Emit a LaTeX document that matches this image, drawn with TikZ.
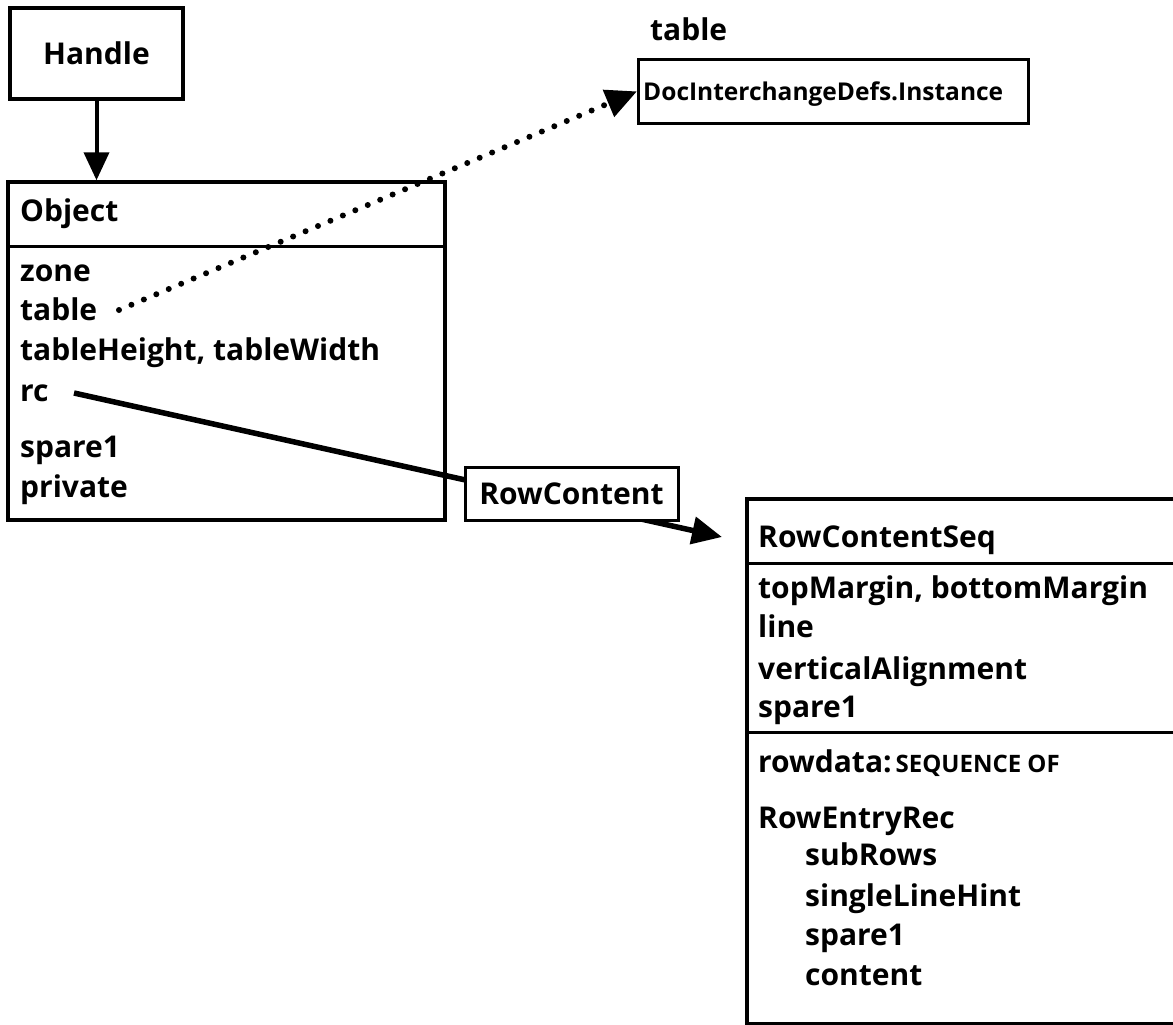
\documentclass[tikz,border=0pt]{standalone}
\usepackage{fontspec}
\setmainfont{Open Sans}
\usetikzlibrary{arrows.meta,calc}
\begin{document}
\begin{tikzpicture}[x=1pt,y=-1pt,
  box/.style={draw, line width=3.5pt, inner sep=0pt},
  big/.style={font=\bfseries\fontsize{30}{36}\selectfont},
  small/.style={font=\bfseries\fontsize{24.5}{29}\selectfont},
  item/.style={big, anchor=base west, inner sep=0pt},
  smallitem/.style={small, anchor=base west, inner sep=0pt},
  sepline/.style={line width=3pt},
  solidarrow/.style={line width=4pt, -{Triangle[length=28pt,width=25pt]}},
  rcarrow/.style={line width=5.5pt, -{Triangle[length=30pt,width=27pt]}},
  dotarrow/.style={line width=6pt, line cap=round, dash pattern=on 0pt off 13.5pt,
                   -{Triangle[length=31pt,width=28pt]}}
]
\clip (0,0) rectangle (1173,1025);
\fill[white] (0,0) rectangle (1173,1025);

% Handle
\node[box, big, minimum width=173pt, minimum height=91pt] (handle) at (96.5,53.5) {Handle};

% Object record
\node[box, minimum width=437pt, minimum height=338pt] (object) at (226.5,351) {};
\draw[sepline] (8,246) -- (445,246);
\node[item] (objhead) at (20,221) {Object};
\node[item] (fzone) at (20,281) {zone};
\node[item] (ftable) at (20,320) {table};
\node[item] (fsize) at (20,360) {tableHeight, tableWidth};
\node[item] (frc) at (20,401) {rc};
\node[item] (fspare) at (20,457) {spare1};
\node[item] (fprivate) at (20,497) {private};

% DocInterchangeDefs.Instance
\node[item] (doclabel) at (650,41) {table};
\node[box, line width=2.7pt, anchor=north west, minimum width=390pt, minimum height=64pt] (doc) at (637,58) {};
\node[smallitem] (doctext) at (643,100) {DocInterchangeDefs.Instance};

% RowContentSeq record
\node[box, anchor=north west, minimum width=440pt, minimum height=525pt] (seq) at (745,497) {};
\draw[sepline] (745,563) -- (1185,563);
\draw[sepline] (745,732) -- (1185,732);
\node[item] (seqhead) at (758,547) {RowContentSeq};
\node[item] (smargin) at (758,598) {topMargin, bottomMargin};
\node[item] (sline) at (758,637) {line};
\node[item] (svalign) at (758,679) {verticalAlignment};
\node[item] (sspare) at (758,717) {spare1};
\node[item] (srowdata) at (758,772) {rowdata:{\fontsize{24}{28}\selectfont\,SEQUENCE OF}};
\node[item] (sentry) at (758,828) {RowEntryRec};
\node[item] (esub) at (805,865) {subRows};
\node[item] (ehint) at (805,906) {singleLineHint};
\node[item] (espare) at (805,945) {spare1};
\node[item] (econtent) at (805,985) {content};

% connectors
\draw[solidarrow] (handle.south) -- (handle.south |- object.north);
\coordinate (tblA) at (119,310);
\draw[dotarrow] (tblA) -- (doc.west);
\coordinate (rcA) at (74,393);
\coordinate (seqtip) at (722,537);
\draw[rcarrow] (rcA) -- (seqtip);

% RowContent label sits on the rc connector
\node[box, line width=3pt, fill=white, big, minimum width=213pt, minimum height=53pt] (rowc) at (571.5,493.5) {RowContent};
\end{tikzpicture}
\end{document}
